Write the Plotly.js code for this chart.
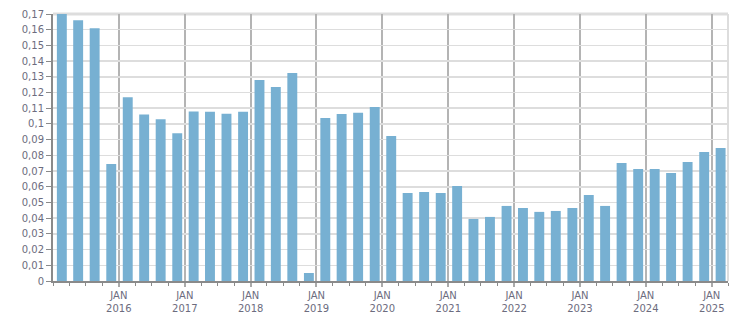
<!DOCTYPE html>
<html>
<head>
<meta charset="utf-8">
<script src="https://cdn.plot.ly/plotly-3.0.1.min.js"></script>
<style>html,body{margin:0;padding:0;background:#fff;}#chart{width:751px;height:313px;}</style>
</head>
<body>
<div id="chart"></div>
<script>
// Quarter start dates (bars centred on each quarter)
const quarters = [
  '2015-01-01','2015-04-01','2015-07-01','2015-10-01',
  '2016-01-01','2016-04-01','2016-07-01','2016-10-01',
  '2017-01-01','2017-04-01','2017-07-01','2017-10-01',
  '2018-01-01','2018-04-01','2018-07-01','2018-10-01',
  '2019-01-01','2019-04-01','2019-07-01','2019-10-01',
  '2020-01-01','2020-04-01','2020-07-01','2020-10-01',
  '2021-01-01','2021-04-01','2021-07-01','2021-10-01',
  '2022-01-01','2022-04-01','2022-07-01','2022-10-01',
  '2023-01-01','2023-04-01','2023-07-01','2023-10-01',
  '2024-01-01','2024-04-01','2024-07-01','2024-10-01',
  '2025-01-01'
];
const values = [
  0.170, 0.166, 0.161, 0.0745,
  0.117, 0.106, 0.103, 0.094,
  0.108, 0.1077, 0.1065, 0.1077,
  0.128, 0.1236, 0.1325, 0.0051,
  0.1038, 0.1064, 0.1071, 0.1108,
  0.0924, 0.056, 0.0567, 0.056,
  0.0605, 0.0395, 0.0408, 0.0478,
  0.0465, 0.044, 0.0446, 0.0465,
  0.0548, 0.0478, 0.0752, 0.0713,
  0.0713, 0.0688, 0.0758, 0.0822,
  0.0847
];
const tickDates = ['2016-01-01','2017-01-01','2018-01-01','2019-01-01','2020-01-01',
                   '2021-01-01','2022-01-01','2023-01-01','2024-01-01','2025-01-01'];
const tickLabels = ['JAN<br>2016','JAN<br>2017','JAN<br>2018','JAN<br>2019','JAN<br>2020',
                    'JAN<br>2021','JAN<br>2022','JAN<br>2023','JAN<br>2024','JAN<br>2025'];

const DAY = 86400000;
const barWidth = 55 * DAY;

const trace = {
  type: 'bar',
  x: quarters,
  y: values,
  xperiod: 'M3',
  xperiod0: '2015-01-01',
  xperiodalignment: 'middle',
  width: barWidth,
  offset: -barWidth / 2 + 4 * DAY,
  marker: {color: '#77b0d2', line: {width: 0}},
  hoverinfo: 'x+y'
};

const layout = {
  width: 751,
  height: 313,
  margin: {l: 53, r: 23, t: 14, b: 32},
  paper_bgcolor: '#ffffff',
  plot_bgcolor: '#ffffff',
  separators: ', ',
  showlegend: false,
  font: {family: 'DejaVu Sans, Verdana, sans-serif', size: 10, color: '#6c6c7e'},
  xaxis: {
    type: 'date',
    range: ['2015-01-01', '2025-04-01'],
    tickmode: 'array',
    tickvals: tickDates,
    ticktext: tickLabels,
    ticks: 'outside',
    ticklen: 4,
    tickwidth: 2,
    tickcolor: '#aaaaaa',
    showgrid: true,
    gridcolor: '#b4b4b4',
    gridwidth: 2,
    showline: true,
    linecolor: '#8a8a8a',
    linewidth: 2,
    zeroline: false,
    tickfont: {family: 'DejaVu Sans, Verdana, sans-serif', size: 10, color: '#6c6c7e'},
    minor: {
      tickmode: 'linear',
      tick0: '2015-01-01',
      dtick: 'M3',
      ticks: 'outside',
      ticklen: 3,
      tickwidth: 1,
      tickcolor: '#8a8a8a',
      showgrid: false
    },
    fixedrange: true
  },
  yaxis: {
    range: [0, 0.17],
    dtick: 0.01,
    tick0: 0,
    tickformat: '.2~f',
    ticks: 'outside',
    ticklen: 5,
    tickwidth: 1,
    tickcolor: '#8a8a8a',
    showgrid: true,
    gridcolor: '#dddddd',
    gridwidth: 1.5,
    showline: true,
    linecolor: '#8a8a8a',
    linewidth: 2,
    zeroline: false,
    tickfont: {family: 'DejaVu Sans, Verdana, sans-serif', size: 10, color: '#6c6c7e'},
    fixedrange: true
  },
  shapes: [
    {type: 'line', xref: 'paper', yref: 'paper', x0: 0, x1: 1, y0: 1, y1: 1,
     line: {color: '#dddddd', width: 3}, layer: 'below'},
    {type: 'line', xref: 'paper', yref: 'paper', x0: 1, x1: 1, y0: 0, y1: 1,
     line: {color: '#dddddd', width: 2}, layer: 'below'}
  ]
};

Plotly.newPlot('chart', [trace], layout, {displayModeBar: false, staticPlot: true});
</script>
</body>
</html>
